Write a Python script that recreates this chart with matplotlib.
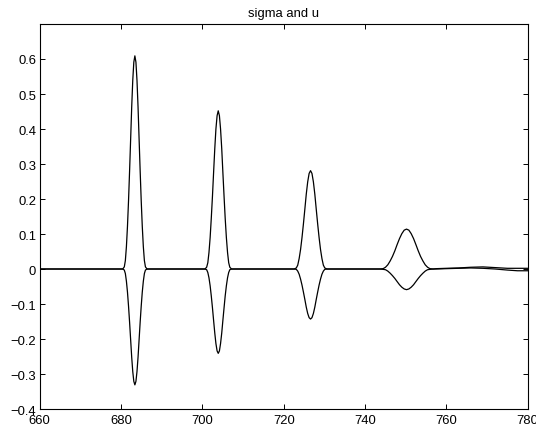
import matplotlib
matplotlib.use("Agg")
import matplotlib.pyplot as plt

# valores: sigma (picos positivos) y u (valles negativos)
x_inicio = [660.0]
sigma_inicio = [0.0]
u_inicio = [0.0]

x_p1 = [680.41, 680.8, 681.06, 681.32, 681.58, 681.84, 682.1, 682.36, 682.62, 682.88, 683.14, 683.4,
        683.66, 683.92, 684.18, 684.44, 684.7, 684.96, 685.22, 685.48, 685.74, 686.0, 686.39]
sigma_p1 = [0.0, 0.006, 0.024, 0.064, 0.122, 0.195, 0.280, 0.371, 0.463, 0.539, 0.591, 0.609,
            0.591, 0.539, 0.463, 0.371, 0.280, 0.195, 0.122, 0.064, 0.024, 0.006, 0.0]
u_p1 = [0.0, -0.003, -0.013, -0.035, -0.066, -0.106, -0.152, -0.202, -0.252, -0.293, -0.321, -0.331,
        -0.321, -0.293, -0.252, -0.202, -0.152, -0.106, -0.066, -0.035, -0.013, -0.003, 0.0]

x_p2 = [700.62, 701.05, 701.34, 701.62, 701.91, 702.19, 702.48, 702.76, 703.05, 703.33, 703.62, 703.9,
        704.19, 704.47, 704.76, 705.04, 705.33, 705.61, 705.9, 706.19, 706.47, 706.75, 707.18]
sigma_p2 = [0.0, 0.005, 0.018, 0.047, 0.090, 0.145, 0.208, 0.276, 0.344, 0.400, 0.438, 0.452,
            0.438, 0.400, 0.344, 0.276, 0.208, 0.145, 0.090, 0.047, 0.018, 0.005, 0.0]
u_p2 = [0.0, -0.002, -0.010, -0.025, -0.048, -0.077, -0.111, -0.147, -0.183, -0.213, -0.234, -0.241,
        -0.234, -0.213, -0.183, -0.147, -0.111, -0.077, -0.048, -0.025, -0.010, -0.002, 0.0]

x_p3 = [722.57, 723.1, 723.45, 723.8, 724.15, 724.5, 724.85, 725.2, 725.55, 725.9, 726.25, 726.6,
        726.95, 727.3, 727.65, 728.0, 728.35, 728.7, 729.05, 729.4, 729.75, 730.1, 730.63]
sigma_p3 = [0.0, 0.003, 0.011, 0.030, 0.056, 0.090, 0.129, 0.171, 0.214, 0.249, 0.273, 0.281,
            0.273, 0.249, 0.214, 0.171, 0.129, 0.090, 0.056, 0.030, 0.011, 0.003, 0.0]
u_p3 = [0.0, -0.001, -0.006, -0.015, -0.029, -0.046, -0.066, -0.087, -0.109, -0.127, -0.139, -0.143,
        -0.139, -0.127, -0.109, -0.087, -0.066, -0.046, -0.029, -0.015, -0.006, -0.001, 0.0]

x_p4 = [743.59, 744.45, 745.03, 745.6, 746.18, 746.75, 747.33, 747.9, 748.48, 749.05, 749.63, 750.2,
        750.78, 751.35, 751.93, 752.5, 753.08, 753.65, 754.23, 754.8, 755.38, 755.95, 756.81]
sigma_p4 = [0.0, 0.001, 0.005, 0.012, 0.023, 0.036, 0.052, 0.070, 0.087, 0.101, 0.111, 0.114,
            0.111, 0.101, 0.087, 0.070, 0.052, 0.036, 0.023, 0.012, 0.005, 0.001, 0.0]
u_p4 = [0.0, -0.001, -0.002, -0.006, -0.012, -0.019, -0.027, -0.036, -0.045, -0.052, -0.057, -0.059,
        -0.057, -0.052, -0.045, -0.036, -0.027, -0.019, -0.012, -0.006, -0.002, -0.001, 0.0]

x_cola = [757.5, 760.0, 763.0, 766.0, 769.0, 772.0, 775.0, 777.5, 780.0]
sigma_cola = [0.001, 0.002, 0.003, 0.005, 0.006, 0.004, 0.002, 0.002, 0.002]
u_cola = [0.0, 0.001, 0.002, 0.003, 0.002, 0.0, -0.003, -0.005, -0.005]

x_ticks = [660, 680, 700, 720, 740, 760, 780]
y_ticks = [-0.4, -0.3, -0.2, -0.1, 0.0, 0.1, 0.2, 0.3, 0.4, 0.5, 0.6]
y_tick_labels = ['\u22120.4', '\u22120.3', '\u22120.2', '\u22120.1', '0', '0.1', '0.2', '0.3', '0.4', '0.5', '0.6']
titulo = 'sigma and u'

x = x_inicio + x_p1 + x_p2 + x_p3 + x_p4 + x_cola
sigma = sigma_inicio + sigma_p1 + sigma_p2 + sigma_p3 + sigma_p4 + sigma_cola
u = u_inicio + u_p1 + u_p2 + u_p3 + u_p4 + u_cola

plt.rcParams['font.family'] = ['Liberation Sans', 'DejaVu Sans']
plt.rcParams['font.size'] = 9.4

fig = plt.figure(figsize=(5.36, 4.31), dpi=100)
ax = fig.add_axes([0.0741, 0.0487, 0.9104, 0.8933])

ax.plot(x, sigma, color='black', linewidth=0.9)
ax.plot(x, u, color='black', linewidth=0.9)

ax.set_xlim(660, 780)
ax.set_ylim(-0.4, 0.7)
ax.set_xticks(x_ticks)
ax.set_xticklabels([str(t) for t in x_ticks])
ax.set_yticks(y_ticks)
ax.set_yticklabels(y_tick_labels)
ax.tick_params(direction='in', top=True, right=True, length=3.6, width=0.7)
ax.tick_params(axis='y', pad=2.5)
ax.tick_params(axis='x', pad=3.8)
for s in ax.spines.values():
    s.set_linewidth(0.8)

ax.set_title(titulo, fontsize=9.4, pad=6)

fig.savefig('out.png', dpi=100)
